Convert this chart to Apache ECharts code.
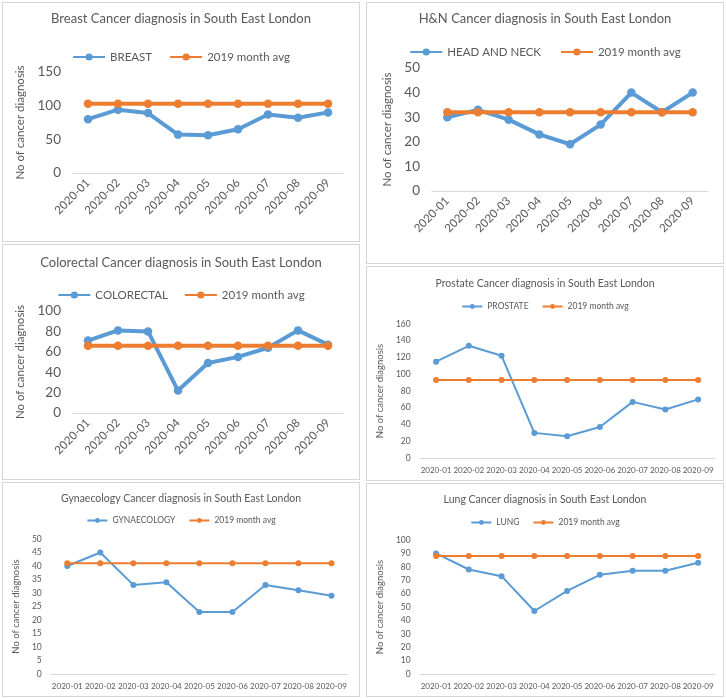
<!DOCTYPE html>
<html><head><meta charset="utf-8">
<script src="https://cdn.jsdelivr.net/npm/echarts@6.0.0/dist/echarts.min.js"></script>
<style>
html,body{margin:0;padding:0;background:#fff;}
body{width:726px;height:698px;position:relative;overflow:hidden;}
.p{position:absolute;box-sizing:border-box;border:1px solid #d6d6d6;background:#fff;}
</style></head><body>
<div id="breast" class="p" style="left:2px;top:2px;width:358px;height:240px"></div>
<div id="colorectal" class="p" style="left:2px;top:244px;width:358px;height:236px"></div>
<div id="gynae" class="p" style="left:2px;top:482px;width:358px;height:215px"></div>
<div id="hn" class="p" style="left:366px;top:2px;width:358px;height:262px"></div>
<div id="prostate" class="p" style="left:366px;top:266px;width:358px;height:215px"></div>
<div id="lung" class="p" style="left:366px;top:483px;width:358px;height:214px"></div>
<script>
const months = ['2020-01','2020-02','2020-03','2020-04','2020-05','2020-06','2020-07','2020-08','2020-09'];
const avgName = '2019 month avg';
const yName = 'No of cancer diagnosis';

const breastVals = [80, 94, 89, 57, 56, 65, 87, 82, 90];
const breastAvg  = [103, 103, 103, 103, 103, 103, 103, 103, 103];
const hnVals     = [30, 33, 29, 23, 19, 27, 40, 32, 40];
const hnAvg      = [32, 32, 32, 32, 32, 32, 32, 32, 32];
const colVals    = [71, 81, 80, 22, 49, 55, 64, 81, 67];
const colAvg     = [66, 66, 66, 66, 66, 66, 66, 66, 66];
const prosVals   = [115, 134, 122, 30, 26, 37, 67, 58, 70];
const prosAvg    = [93, 93, 93, 93, 93, 93, 93, 93, 93];
const gynVals    = [40, 45, 33, 34, 23, 23, 33, 31, 29];
const gynAvg     = [41, 41, 41, 41, 41, 41, 41, 41, 41];
const lungVals   = [90, 78, 73, 47, 62, 74, 77, 77, 83];
const lungAvg    = [88, 88, 88, 88, 88, 88, 88, 88, 88];

const FONT = 'Lato, "Open Sans", sans-serif';
const TXT = '#595959';
const BLUE = '#5B9BD5';
const ORANGE = '#ED7D31';

function makePanel(id, c){
  const chart = echarts.init(document.getElementById(id), null, {renderer:'canvas'});
  chart.setOption({
    animation:false,
    textStyle:{fontFamily:FONT},
    title:{text:c.title, left:'center', top:c.titleTop,
      textStyle:{fontSize:c.titleSize, fontWeight:'normal', color:TXT, fontFamily:FONT}},
    legend:{top:c.legendTop, left:'center', itemWidth:c.iconW, itemHeight:c.iconH, itemGap:c.legendGap,
      textStyle:{fontSize:c.legendSize, color:TXT, fontFamily:FONT},
      data:[c.name, avgName]},
    grid:{left:c.grid[0], top:c.grid[1], right:c.grid[2], bottom:c.grid[3]},
    xAxis:{type:'category', data:months, boundaryGap:true,
      axisLine:{lineStyle:{color:'#d9d9d9', width:1}}, axisTick:{show:false},
      axisLabel:{interval:0, rotate:c.rotate, margin:c.xMargin, color:TXT, fontSize:c.xSize, fontFamily:FONT}},
    yAxis:{type:'value', min:0, max:c.max, interval:c.interval,
      name:yName, nameLocation:'middle', nameGap:c.nameGap,
      nameTextStyle:{fontSize:c.nameSize, color:TXT, fontFamily:FONT},
      axisLine:{show:false}, axisTick:{show:false}, splitLine:{show:false},
      axisLabel:{margin:c.yMargin, color:TXT, fontSize:c.ySize, fontFamily:FONT}},
    series:[
      {name:c.name, type:'line', data:c.vals, symbol:'circle', symbolSize:c.sym,
       lineStyle:{width:c.lw, color:BLUE}, itemStyle:{color:BLUE}},
      {name:avgName, type:'line', data:c.avg, symbol:'circle', symbolSize:c.sym,
       lineStyle:{width:c.lw, color:ORANGE}, itemStyle:{color:ORANGE}}
    ]
  });
}

const bigStyle = {titleSize:13, legendSize:11.5, iconW:32, iconH:9, rotate:45, xMargin:8, xSize:11.5, ySize:13.5, nameSize:11.5, yMargin:12, sym:8.5, lw:4};
const smallStyle = {titleSize:10.5, legendSize:8.5, iconW:20, iconH:6, rotate:0, xMargin:8, xSize:8, ySize:8.5, nameSize:9.5, yMargin:9, sym:6, lw:2};

makePanel('breast', Object.assign({}, bigStyle, {
  title:'Breast Cancer diagnosis in South East London', name:'BREAST', vals:breastVals, avg:breastAvg,
  titleTop:4, legendTop:43, legendGap:17, grid:[70,69,16,68], max:150, interval:50, nameGap:46}));
makePanel('hn', Object.assign({}, bigStyle, {
  title:'H&N Cancer diagnosis in South East London', name:'HEAD AND NECK', vals:hnVals, avg:hnAvg,
  titleTop:4, legendTop:38, legendGap:19, grid:[65,65,15,72], max:50, interval:10, nameGap:32}));
makePanel('colorectal', Object.assign({}, bigStyle, {
  title:'Colorectal Cancer diagnosis in South East London', name:'COLORECTAL', vals:colVals, avg:colAvg,
  titleTop:6, legendTop:39, legendGap:16, grid:[70,66,16,66], max:100, interval:20, nameGap:42}));
makePanel('prostate', Object.assign({}, smallStyle, {
  title:'Prostate Cancer diagnosis in South East London', name:'PROSTATE', vals:prosVals, avg:prosAvg,
  titleTop:6, legendTop:30, legendGap:13, grid:[50.5,57,8.5,22], max:160, interval:20, nameGap:26}));
makePanel('gynae', Object.assign({}, smallStyle, {
  title:'Gynaecology Cancer diagnosis in South East London', name:'GYNAECOLOGY', vals:gynVals, avg:gynAvg,
  titleTop:5, legendTop:28, legendGap:13, grid:[43,56,11,22], max:50, interval:5, nameGap:21}));
makePanel('lung', Object.assign({}, smallStyle, {
  title:'Lung Cancer diagnosis in South East London', name:'LUNG', vals:lungVals, avg:lungAvg,
  titleTop:5, legendTop:29, legendGap:13, grid:[50.5,56,8.5,22], max:100, interval:10, nameGap:26}));
</script>
</body></html>
